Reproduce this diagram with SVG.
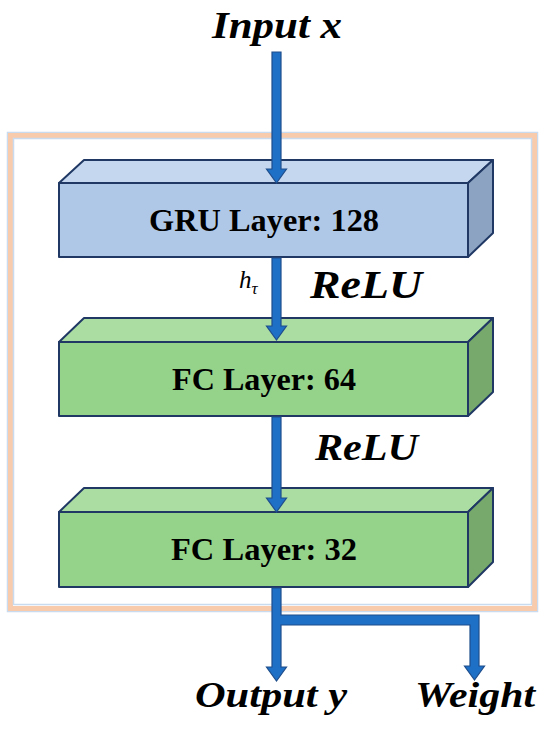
<svg xmlns="http://www.w3.org/2000/svg" width="550" height="732" viewBox="0 0 550 732">
<defs>
<style>
text{font-family:'Liberation Serif',serif;fill:#000}
.lbl{font-weight:bold;font-style:italic}
.box{font-weight:bold;font-size:31px}
.edge{stroke:#203864;stroke-width:2;stroke-linejoin:round}
.arrow{fill:#1E6FC6;stroke:#1F4E8C;stroke-width:1.2;stroke-linejoin:miter}
.gf{fill:#B0C8E8}.gt{fill:#C4D7EF}.gr{fill:#8CA4C2}
.ff{fill:#95D38B}.ft{fill:#ABDCA2}.fr{fill:#76A96B}
</style>
</defs>
<rect width="550" height="732" fill="#FFFFFF"/>
<g id="frame" fill="none">
<rect x="7.5" y="132.5" width="530" height="479" stroke="#C9DCEF" stroke-width="1.5"/>
<rect x="10.5" y="135.5" width="524" height="473" stroke="#F8CBAD" stroke-width="5"/>
<rect x="13.5" y="138.5" width="518" height="466" stroke="#C9DCEF" stroke-width="1.5"/>
</g>
<g id="gru">
<polygon class="gt edge" points="59,183 84,160 493,160 468,183"/>
<polygon class="gr edge" points="468,183 493,160 493,233 468,257"/>
<rect class="gf edge" x="59" y="183" width="409" height="74"/>
<text class="box" x="264" y="231" text-anchor="middle" textLength="230" lengthAdjust="spacingAndGlyphs">GRU Layer: 128</text>
</g>
<g id="fc64">
<polygon class="ft edge" points="59,342 84,318 493,318 468,342"/>
<polygon class="fr edge" points="468,342 493,318 493,392 468,416"/>
<rect class="ff edge" x="59" y="342" width="409" height="74"/>
<text class="box" x="264" y="390" text-anchor="middle" textLength="184" lengthAdjust="spacingAndGlyphs">FC Layer: 64</text>
</g>
<g id="fc32">
<polygon class="ft edge" points="59,512 84,488 493,488 468,512"/>
<polygon class="fr edge" points="468,512 493,488 493,562 468,587"/>
<rect class="ff edge" x="59" y="512" width="409" height="75"/>
<text class="box" x="264" y="560" text-anchor="middle" textLength="186" lengthAdjust="spacingAndGlyphs">FC Layer: 32</text>
</g>
<g id="connectors">
<polygon class="arrow" points="272,52 281,52 281,169 286.5,169 276.5,183 266.5,169 272,169"/>
<polygon class="arrow" points="272,258 281,258 281,326 286.5,326 276.5,340 266.5,326 272,326"/>
<polygon class="arrow" points="272,417 281,417 281,498 286.5,498 276.5,512 266.5,498 272,498"/>
<polygon class="arrow" points="272,588 281,588 281,615 479,615 479,666 484.5,666 474.5,680 464.5,666 470,666 470,625 281,625 281,667 286.5,667 276.5,681 266.5,667 272,667"/>
</g>
<g id="labels">
<text class="lbl" x="212" y="38" font-size="37" textLength="130" lengthAdjust="spacingAndGlyphs">Input x</text>
<text class="lbl" x="310" y="298" font-size="40" textLength="112" lengthAdjust="spacingAndGlyphs">ReLU</text>
<text class="lbl" x="315" y="460" font-size="38" textLength="103" lengthAdjust="spacingAndGlyphs">ReLU</text>
<text x="239" y="288" font-style="italic" font-size="25">h<tspan font-size="17" dy="6">τ</tspan></text>
<text class="lbl" x="195" y="707" font-size="35" textLength="152" lengthAdjust="spacingAndGlyphs">Output y</text>
<text class="lbl" x="415" y="707" font-size="36" textLength="120" lengthAdjust="spacingAndGlyphs">Weight</text>
</g>
</svg>
